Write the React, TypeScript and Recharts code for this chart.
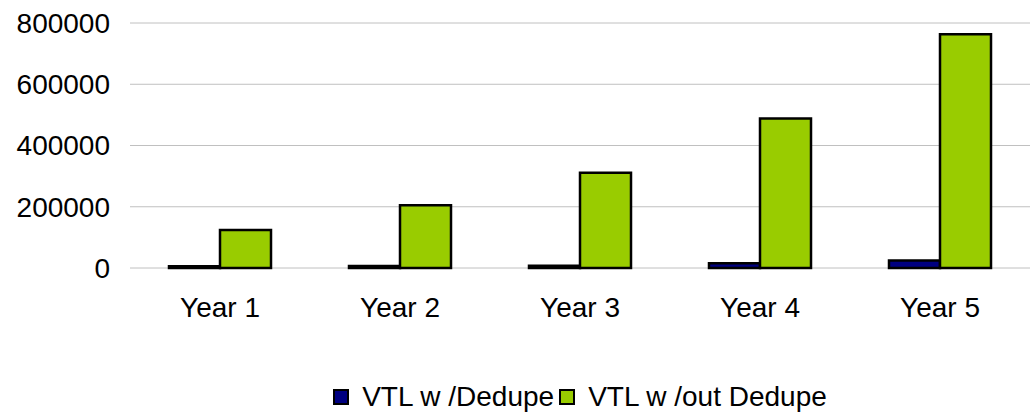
import React from 'react';
import { BarChart, Bar, XAxis, YAxis, CartesianGrid, Legend } from 'recharts';

const years = ['Year 1', 'Year 2', 'Year 3', 'Year 4', 'Year 5'];
const withDedupe = [6000, 6500, 7000, 15500, 24500];
const withoutDedupe = [124000, 205000, 311000, 488000, 763000];
const yTicks = [0, 200000, 400000, 600000, 800000];

const seriesInfo = [
  { key: 'dedupe', name: 'VTL w /Dedupe', color: '#000080' },
  { key: 'nodedupe', name: 'VTL w /out Dedupe', color: '#99CC00' },
];

const data = years.map((y, i) => ({
  year: y,
  dedupe: withDedupe[i],
  nodedupe: withoutDedupe[i],
}));

const font = '"Liberation Sans", Arial, sans-serif';

const LegendBox = () => (
  <div
    style={{
      marginLeft: 130,
      width: 900,
      height: 46,
      paddingTop: 14,
      boxSizing: 'border-box',
      display: 'flex',
      justifyContent: 'center',
      alignItems: 'center',
      fontFamily: font,
      fontSize: 28,
      color: '#000',
    }}
  >
    {seriesInfo.map((s, i) => (
      <div key={s.key} style={{ display: 'flex', alignItems: 'center', marginLeft: i ? 5 : 0 }}>
        <span
          style={{
            display: 'inline-block',
            width: 12,
            height: 12,
            border: '2px solid #000',
            background: s.color,
            marginRight: 13,
          }}
        />
        <span>{s.name}</span>
      </div>
    ))}
  </div>
);

export default function App() {
  return (
    <div style={{ position: 'absolute', left: 0, top: 0, width: 1031, height: 413, background: '#fff' }}>
      <BarChart
        width={1031}
        height={413}
        data={data}
        margin={{ top: 23, right: 1, bottom: 0, left: 0 }}
        barGap={0}
        barSize={51}
      >
        <CartesianGrid vertical={false} stroke="#c0c0c0" strokeWidth={1} />
        <XAxis
          dataKey="year"
          axisLine={false}
          tickLine={false}
          tickSize={0}
          tickMargin={29}
          height={99}
          tick={{ fill: '#000', fontSize: 28, fontFamily: font }}
        />
        <YAxis
          width={130}
          domain={[0, 800000]}
          ticks={yTicks}
          axisLine={false}
          tickLine={false}
          tickSize={0}
          tickMargin={20}
          tick={{ fill: '#000', fontSize: 28, fontFamily: font }}
        />
        <Legend verticalAlign="bottom" height={46} content={() => <LegendBox />} wrapperStyle={{ left: 0, width: 1031 }} />
        {seriesInfo.map((s) => (
          <Bar
            key={s.key}
            dataKey={s.key}
            name={s.name}
            fill={s.color}
            stroke="#000"
            strokeWidth={2.5}
            isAnimationActive={false}
          />
        ))}
      </BarChart>
    </div>
  );
}
